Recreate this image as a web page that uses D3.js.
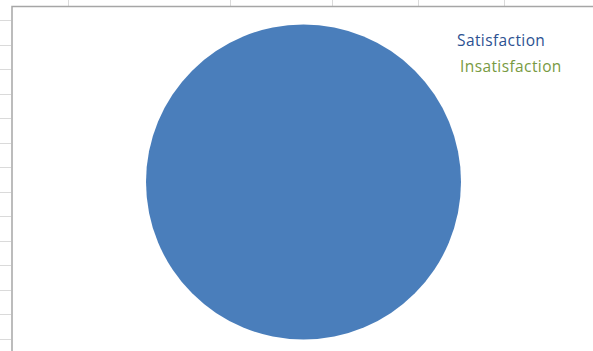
<!DOCTYPE html>
<html>
<head>
<meta charset="utf-8">
<script src="https://cdn.jsdelivr.net/npm/d3@7"></script>
<style>
  body { margin: 0; background: #fff; }
  svg { display: block; }
</style>
</head>
<body>
<svg width="593" height="351"></svg>
<script>
const width = 593;
const height = 351;

// data
const categories = ["Satisfaction", "Insatisfaction"];
const values = [100, 0];
const colors = ["#4a7ebb", "#77933c"];
const labelColors = ["#2c5191", "#789a42"];

const svg = d3.select("svg");

//--------------------spreadsheet grid behind chart--------------------
const colLines = [68, 230, 332, 418, 504];
colLines.forEach(x => {
    svg.append("line")
        .attr("x1", x + 0.5).attr("x2", x + 0.5)
        .attr("y1", 0).attr("y2", 6)
        .attr("stroke", "#dadada");
});
for (let y = 20; y < height; y += 24.5) {
    svg.append("line")
        .attr("x1", 0).attr("x2", 11)
        .attr("y1", Math.round(y) + 0.5).attr("y2", Math.round(y) + 0.5)
        .attr("stroke", "#dadada");
}

//chart area border
svg.append("rect")
    .attr("x", 12)
    .attr("y", 6.5)
    .attr("width", width)
    .attr("height", height)
    .attr("fill", "white")
    .attr("stroke", "#a6a6a6")
    .attr("stroke-width", 1.5);

//--------------------Pie Chart--------------------
const cx = 303.5;
const cy = 182;
const r = 157.5;

const pie = d3.pie().sort(null).value(d => d);
const arc = d3.arc().innerRadius(0).outerRadius(r);

svg.append("g")
    .attr("transform", "translate(" + cx + "," + cy + ")")
    .selectAll("path")
    .data(pie(values))
    .enter()
    .append("path")
    .attr("d", arc)
    .attr("fill", (d, i) => colors[i]);

//--------------------legend--------------------
const legendY = d3.scalePoint()
    .domain(categories)
    .range([46, 72]);

svg.append("g")
    .selectAll("text")
    .data(categories)
    .enter()
    .append("text")
    .attr("x", (d, i) => i == 0 ? 457 : 460)
    .attr("y", d => legendY(d))
    .attr("fill", (d, i) => labelColors[i])
    .style("font-family", "'Open Sans', sans-serif")
    .style("font-size", "15.5px")
    .style("letter-spacing", "0.4px")
    .text(d => d);
</script>
</body>
</html>
